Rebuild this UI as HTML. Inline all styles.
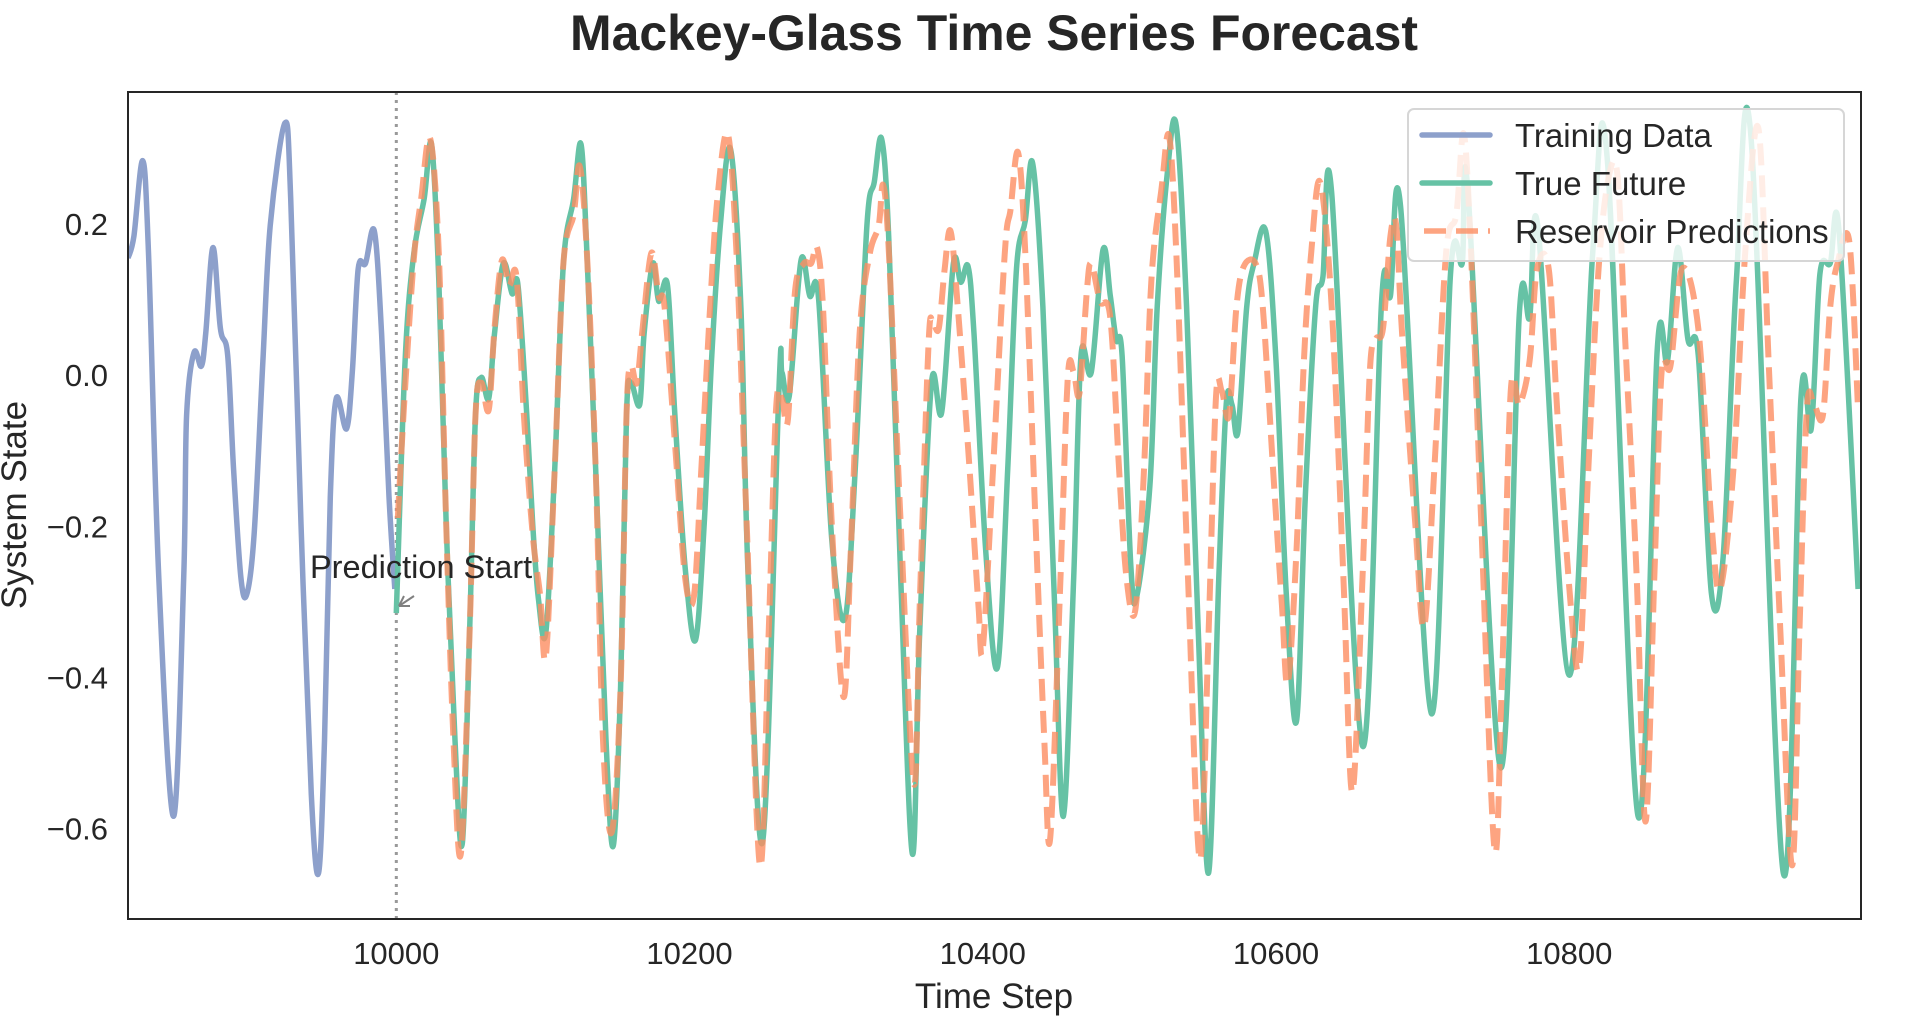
<!DOCTYPE html>
<html><head><meta charset="utf-8"><style>
html,body{margin:0;padding:0;background:#fff;}
svg{display:block;font-family:"Liberation Sans",Arial,sans-serif;}
</style></head><body>
<svg id="chart" width="1923" height="1027" viewBox="0 0 1923 1027">
<text x="994" y="50" text-anchor="middle" font-size="50" font-weight="bold" fill="#262626" textLength="848" lengthAdjust="spacingAndGlyphs">Mackey-Glass Time Series Forecast</text>
<g id="plot"></g>
<g id="xticks"></g>
<g id="yticks"></g>
<text x="994" y="1008" text-anchor="middle" font-size="35" fill="#262626">Time Step</text>
<text transform="translate(26,505) rotate(-90)" text-anchor="middle" font-size="35" fill="#262626">System State</text>
<g>
<text x="310" y="578" font-size="32.5" fill="#262626">Prediction Start</text>
<line x1="414" y1="596" x2="399" y2="606" stroke="#808080" stroke-width="2"/>
<path d="M399 606 L404 596 M399 606 L410 606" stroke="#808080" stroke-width="2" fill="none"/>
</g>
<g>
<rect x="1408" y="109" width="436" height="152" rx="6" fill="#fff" fill-opacity="0.8" stroke="#d6d6d6" stroke-width="2"/>
<line x1="1422" y1="135" x2="1490" y2="135" stroke="#8da0cb" stroke-width="5.5" stroke-linecap="round"/>
<text x="1515" y="147" font-size="33" fill="#262626">Training Data</text>
<line x1="1422" y1="183" x2="1490" y2="183" stroke="#66c2a5" stroke-width="5.5" stroke-linecap="round"/>
<text x="1515" y="195" font-size="33" fill="#262626">True Future</text>
<line x1="1424" y1="231" x2="1490" y2="231" stroke="#fc8d62" stroke-opacity="0.8" stroke-width="5.5" stroke-dasharray="22 10"/>
<text x="1515" y="243" font-size="33" fill="#262626">Reservoir Predictions</text>
</g>
</svg>
<script>
const trainX=[9817,9821,9827,9831,9838,9848,9855,9857,9862,9867,9870,9875,9880,9885,9889,9894,9898,9903,9909,9914,9924,9928,9935,9942,9947,9951,9955,9959,9966,9970,9974,9979,9985,9990,9995,9999];
const trainY=[0.155,0.184,0.284,0.162,-0.268,-0.584,-0.268,-0.053,0.030,0.012,0.055,0.169,0.062,0.026,-0.125,-0.268,-0.290,-0.211,0.019,0.198,0.334,0.234,-0.197,-0.555,-0.659,-0.484,-0.161,-0.031,-0.071,0.004,0.141,0.148,0.191,0.055,-0.161,-0.283];
const trueX=[10000,10006,10012,10019,10024,10029,10034,10040,10045,10050,10054,10058,10063,10067,10073,10079,10083,10089,10093,10097,10102,10108,10114,10121,10126,10130,10136,10143,10148,10153,10157,10160,10166,10169,10175,10179,10185,10190,10197,10204,10210,10215,10221,10228,10235,10240,10250,10261,10263,10268,10276,10282,10288,10297,10306,10313,10321,10326,10331,10336,10344,10352,10357,10365,10372,10380,10385,10390,10394,10402,10410,10417,10423,10429,10434,10441,10449,10455,10462,10467,10474,10482,10487,10491,10495,10501,10505,10514,10519,10526,10532,10539,10547,10554,10561,10566,10570,10574,10580,10585,10593,10600,10607,10614,10620,10627,10632,10638,10659,10672,10678,10685,10706,10719,10727,10731,10753,10766,10773,10779,10800,10816,10826,10847,10860,10867,10874,10881,10888,10897,10905,10914,10924,10946,10958,10965,10971,10978,10984,10997];
const trueY=[-0.315,0.019,0.162,0.234,0.306,0.126,-0.197,-0.483,-0.620,-0.340,-0.053,-0.003,-0.031,0.055,0.148,0.108,0.119,-0.053,-0.197,-0.297,-0.340,-0.125,0.148,0.234,0.306,0.162,-0.125,-0.483,-0.623,-0.412,-0.053,-0.010,-0.039,0.055,0.148,0.098,0.119,-0.053,-0.254,-0.351,-0.197,0.019,0.198,0.299,0.090,-0.268,-0.616,-0.017,0.004,-0.028,0.152,0.105,0.101,-0.218,-0.322,-0.125,0.198,0.256,0.313,0.177,-0.268,-0.634,-0.340,-0.010,-0.049,0.148,0.123,0.144,0.055,-0.232,-0.387,-0.125,0.141,0.205,0.281,0.090,-0.304,-0.584,-0.268,0.026,0.004,0.166,0.105,0.047,0.026,-0.254,-0.293,-0.146,0.090,0.270,0.330,0.090,-0.340,-0.659,-0.268,-0.039,-0.039,-0.075,0.090,0.148,0.191,0.019,-0.290,-0.458,-0.161,0.090,0.130,0.241,-0.491,0.098,0.105,0.223,-0.448,0.134,0.148,0.241,-0.519,0.083,0.076,0.191,-0.397,0.162,0.284,-0.584,0.033,0.019,0.169,0.047,0.026,-0.290,-0.240,0.126,0.315,-0.659,-0.031,-0.071,0.134,0.148,0.191,-0.283];
const predX=[10001,10006,10012,10017,10023,10029,10034,10039,10044,10050,10054,10058,10063,10067,10072,10077,10082,10087,10093,10098,10102,10108,10114,10121,10125,10130,10136,10141,10147,10153,10157,10160,10164,10168,10174,10179,10183,10190,10197,10203,10208,10214,10219,10226,10232,10239,10248,10254,10259,10263,10267,10272,10278,10283,10287,10291,10297,10305,10310,10316,10323,10329,10332,10336,10344,10353,10357,10363,10366,10370,10374,10378,10383,10391,10397,10400,10407,10415,10419,10424,10429,10436,10442,10446,10453,10458,10462,10466,10471,10474,10480,10487,10493,10498,10504,10510,10515,10522,10527,10532,10540,10548,10554,10559,10563,10568,10573,10578,10586,10591,10598,10604,10608,10614,10619,10624,10630,10638,10646,10652,10659,10664,10668,10673,10678,10682,10686,10695,10701,10708,10716,10723,10728,10733,10740,10749,10754,10760,10766,10773,10778,10786,10792,10801,10807,10813,10820,10827,10833,10838,10846,10852,10858,10863,10869,10877,10888,10897,10903,10912,10920,10929,10936,10944,10952,10957,10962,10967,10973,10978,10983,10991,10997];
const predY=[-0.189,-0.017,0.155,0.234,0.314,0.162,-0.197,-0.483,-0.634,-0.340,-0.053,-0.010,-0.046,0.062,0.152,0.119,0.130,-0.053,-0.211,-0.290,-0.372,-0.125,0.148,0.213,0.277,0.162,-0.125,-0.483,-0.605,-0.412,-0.053,0.012,-0.010,0.062,0.162,0.105,0.090,-0.089,-0.268,-0.293,-0.125,0.090,0.234,0.320,0.162,-0.197,-0.649,-0.340,-0.046,-0.031,-0.060,0.112,0.148,0.148,0.169,0.090,-0.197,-0.426,-0.232,0.055,0.162,0.198,0.252,0.162,-0.197,-0.541,-0.304,0.040,0.069,0.062,0.141,0.191,0.090,-0.125,-0.304,-0.362,-0.125,0.162,0.220,0.295,0.162,-0.197,-0.483,-0.613,-0.268,-0.003,0.004,-0.024,0.112,0.148,0.098,0.076,-0.125,-0.268,-0.311,-0.125,0.126,0.248,0.317,0.162,-0.268,-0.641,-0.340,-0.031,-0.021,-0.053,0.090,0.144,0.148,0.090,-0.125,-0.304,-0.408,-0.232,0.019,0.162,0.256,0.090,-0.268,-0.552,-0.268,0.004,0.047,0.062,0.184,0.198,0.055,-0.197,-0.333,-0.125,0.162,0.213,0.320,0.162,-0.197,-0.627,-0.412,-0.024,-0.039,0.019,0.141,0.141,-0.053,-0.304,-0.383,-0.125,0.141,0.263,0.263,0.055,-0.268,-0.591,-0.268,0.004,0.012,0.141,0.062,-0.197,-0.283,-0.125,0.162,0.327,0.019,-0.340,-0.649,-0.340,-0.046,-0.039,-0.053,0.090,0.148,0.177,-0.046];
const xTicks=[10000,10200,10400,10600,10800];
const yTicks=[0.2,0.0,-0.2,-0.4,-0.6];
const yTickLabels=["0.2","0.0","\u22120.2","\u22120.4","\u22120.6"];
const predictionStart=10000;

const L=128,R=1861,T=92,B=919;
const X0=9817,X1=10999,Y0=-0.72,Y1=0.375;
function sx(v){return L+(v-X0)/(X1-X0)*(R-L);}
function sy(v){return B-(v-Y0)/(Y1-Y0)*(B-T);}
const NS="http://www.w3.org/2000/svg";
function pathFor(xs,ys){
  const p=xs.map((x,i)=>[sx(x),sy(ys[i])]);
  let d="M"+p[0][0].toFixed(1)+" "+p[0][1].toFixed(1);
  for(let i=0;i<p.length-1;i++){
    const p0=p[Math.max(0,i-1)],p1=p[i],p2=p[i+1],p3=p[Math.min(p.length-1,i+2)];
    const c1x=p1[0]+(p2[0]-p0[0])/6,c1y=p1[1]+(p2[1]-p0[1])/6;
    const c2x=p2[0]-(p3[0]-p1[0])/6,c2y=p2[1]-(p3[1]-p1[1])/6;
    d+=" C"+c1x.toFixed(1)+" "+c1y.toFixed(1)+" "+c2x.toFixed(1)+" "+c2y.toFixed(1)+" "+p2[0].toFixed(1)+" "+p2[1].toFixed(1);
  }
  return d;
}
const plot=document.getElementById('plot');
const clip=document.createElementNS(NS,'clipPath');clip.setAttribute('id','cp');
const cr=document.createElementNS(NS,'rect');cr.setAttribute('x',L);cr.setAttribute('y',T);cr.setAttribute('width',R-L);cr.setAttribute('height',B-T);
clip.appendChild(cr);plot.appendChild(clip);
const g=document.createElementNS(NS,'g');g.setAttribute('clip-path','url(#cp)');plot.appendChild(g);

const vline=document.createElementNS(NS,'line');


vline.setAttribute('x1',sx(predictionStart));vline.setAttribute('x2',sx(predictionStart));
vline.setAttribute('y1',T);vline.setAttribute('y2',B);
vline.setAttribute('stroke','#999');vline.setAttribute('stroke-width','3');vline.setAttribute('stroke-dasharray','3 5');
g.appendChild(vline);

const tr=document.createElementNS(NS,'path');


tr.setAttribute('d',pathFor(trainX,trainY));
tr.setAttribute('fill','none');tr.setAttribute('stroke','#8da0cb');tr.setAttribute('stroke-width','5.5');tr.setAttribute('stroke-linejoin','round');
g.appendChild(tr);

const tf=document.createElementNS(NS,'path');


tf.setAttribute('d',pathFor(trueX,trueY));
tf.setAttribute('fill','none');tf.setAttribute('stroke','#66c2a5');tf.setAttribute('stroke-width','5.5');tf.setAttribute('stroke-linejoin','round');
g.appendChild(tf);

const pr=document.createElementNS(NS,'path');


pr.setAttribute('d',pathFor(predX,predY));
pr.setAttribute('fill','none');pr.setAttribute('stroke','#fc8d62');pr.setAttribute('stroke-opacity','0.8');pr.setAttribute('stroke-width','6');pr.setAttribute('stroke-dasharray','22 10');
g.appendChild(pr);

const frame=document.createElementNS(NS,'rect');


frame.setAttribute('x',L);frame.setAttribute('y',T);frame.setAttribute('width',R-L);frame.setAttribute('height',B-T);
frame.setAttribute('fill','none');frame.setAttribute('stroke','#262626');frame.setAttribute('stroke-width','2');
plot.appendChild(frame);

const xg=document.getElementById('xticks');
xTicks.forEach(v=>{
  const t=document.createElementNS(NS,'text');
  
  
  t.setAttribute('x',sx(v));t.setAttribute('y',964);t.setAttribute('text-anchor','middle');
  t.setAttribute('font-size','31');t.setAttribute('fill','#262626');t.textContent=String(v);
  xg.appendChild(t);
});
const yg=document.getElementById('yticks');
yTicks.forEach((v,i)=>{
  const t=document.createElementNS(NS,'text');
  
  
  t.setAttribute('x',108);t.setAttribute('y',sy(v)+11);t.setAttribute('text-anchor','end');
  t.setAttribute('font-size','31');t.setAttribute('fill','#262626');t.textContent=yTickLabels[i];
  yg.appendChild(t);
});
</script>
</body></html>
